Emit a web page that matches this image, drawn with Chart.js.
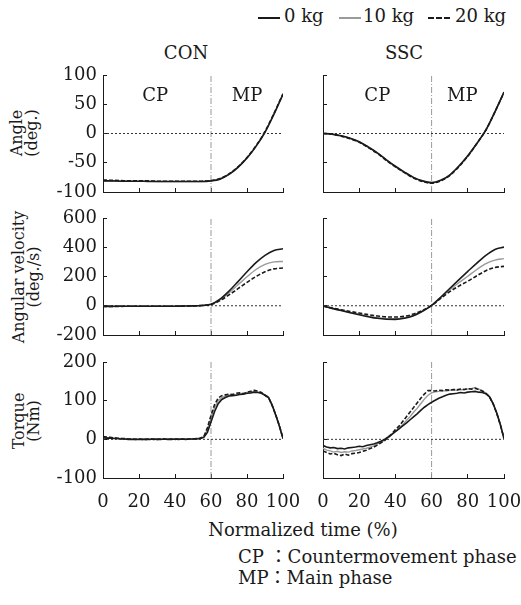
<!DOCTYPE html>
<html><head><meta charset="utf-8">
<script src="https://cdn.jsdelivr.net/npm/chart.js@4"></script>
<style>
body{margin:0;background:#fff;width:521px;height:605px;position:relative;overflow:hidden;font-family:"DejaVu Serif","Noto Sans CJK JP",serif;color:#1a1a1a}
canvas{position:absolute}
.t{position:absolute;white-space:nowrap;font-size:18px;line-height:20px}
.c{transform:translate(-50%,-50%)}
.yt{position:absolute;white-space:nowrap;font-size:16px;line-height:15px;text-align:center;transform:translate(-50%,-50%) rotate(-90deg)}
.lg{position:absolute;width:22px;height:0}
</style></head><body>

<div class="lg" style="left:258px;top:17px;border-top:2px solid #1a1a1a"></div>
<div class="t" style="left:284px;top:6px">0 kg</div>
<div class="lg" style="left:339px;top:17px;border-top:2px solid #9a9a9a"></div>
<div class="t" style="left:363px;top:6px">10 kg</div>
<div class="lg" style="left:428px;top:17px;border-top:2px dashed #1a1a1a"></div>
<div class="t" style="left:455px;top:6px">20 kg</div>

<div class="t c" style="left:186px;top:53px">CON</div>
<div class="t c" style="left:404px;top:53px">SSC</div>

<div class="yt" style="left:24px;top:133px">Angle<br>(deg.)</div>
<div class="yt" style="left:26px;top:277px">Angular velocity<br>(deg./s)</div>
<div class="yt" style="left:26px;top:421px">Torque<br>(Nm)</div>

<div class="t c" style="left:303px;top:530px">Normalized time (%)</div>
<div class="t" style="left:238px;top:547px">CP ：Countermovement phase</div>
<div class="t" style="left:238px;top:568px">MP：Main phase</div>

<canvas id="c1"></canvas><canvas id="c2"></canvas>
<canvas id="c3"></canvas><canvas id="c4"></canvas>
<canvas id="c5"></canvas><canvas id="c6"></canvas>

<script>
// ---------- data ----------
const loads = ['0 kg', '10 kg', '20 kg'];
const xTicks = [0, 20, 40, 60, 80, 100];
const angleTicks = [-100, -50, 0, 50, 100];
const velocityTicks = [-200, 0, 200, 400, 600];
const torqueTicks = [-100, 0, 100, 200];
const phaseBoundary = 60;

const timeCoarse = [0,5,10,15,20,25,30,35,40,45,50,55,60,65,70,75,80,85,90,95,100];
const timeFine = [0,2,4,6,8,10,12,14,16,18,20,22,24,26,28,30,32,34,36,38,40,42,44,46,48,50,
                  52,54,56,58,60,62,64,66,68,70,72,74,76,78,80,82,84,86,88,90,92,94,96,98,100];

const conAngle0  = [-81,-81,-81.5,-81.5,-81.5,-82,-82,-82,-82,-82,-82,-82,-81,-78,-70,-58,-42,-22,2,33,67];
const conAngle10 = [-80.5,-81,-81,-81.5,-81.5,-81.5,-82,-82,-82,-82,-82,-82,-81,-77.5,-69.5,-57.5,-41.5,-21.5,3,34,68];
const conAngle20 = [-79.5,-80,-80.5,-81,-81,-81,-81.5,-81.5,-81.5,-81.5,-81.5,-81.5,-80.5,-77,-69,-57,-41,-21,3.5,34.5,68];

const sscAngle0  = [0,-1,-4,-8,-14,-23,-33,-45,-56,-66,-75,-81,-84,-80,-71,-56,-38,-17,6,37,71];
const sscAngle10 = [0,-1,-4,-8.5,-14.5,-23.5,-33.5,-45,-56.5,-66.5,-75.5,-81.5,-84.5,-80.5,-71,-56,-38,-17,6,37,70];
const sscAngle20 = [0,-1,-4.5,-9,-15,-24,-34,-46,-57,-67,-76,-82,-85,-81,-72,-57,-39,-17,6,37,70];

const conVel0  = [-4,-4,-3,-3,-3,-3,-3,-3,-3,-2,-1,2,10,45,100,165,232,295,345,378,390];
const conVel10 = [-4,-4,-3,-3,-3,-3,-3,-3,-3,-2,-1,2,9,40,88,143,198,248,283,300,303];
const conVel20 = [-5,-4,-4,-3,-3,-3,-3,-3,-3,-2,-1,2,8,35,74,117,160,200,232,252,258];

const sscVel0  = [-2,-18,-33,-48,-62,-75,-86,-92,-93,-86,-68,-38,2,58,118,177,235,292,345,385,401];
const sscVel10 = [-2,-17,-31,-45,-58,-71,-82,-88,-89,-82,-64,-35,2,55,108,157,202,248,288,312,322];
const sscVel20 = [-2,-15,-27,-39,-50,-61,-70,-76,-77,-72,-57,-31,2,50,96,134,168,205,240,262,269];

const conTorque0  = [4,3,3,2,2,1,1,0,0,0, 0,0,0,0,1,0,0,1,0,0, 1,0,1,0,1,1,1,2,5,18,
                     45,72,92,103,108,112,113,114,116,117, 119,120,122,121,119,114,108,88,62,34, 2];
const conTorque10 = [5,4,4,3,2,2,1,1,0,0, 0,0,1,0,0,1,0,0,1,0, 0,1,0,1,0,1,2,3,6,25,
                     55,82,100,108,112,114,116,115,118,119, 121,122,124,122,120,115,109,89,63,35, 2];
const conTorque20 = [7,6,5,4,3,2,2,1,1,0, 1,0,0,1,0,0,1,1,0,1, 0,1,1,0,1,1,2,3,7,30,
                     62,90,107,113,115,117,116,119,120,118, 122,124,127,125,121,114,108,87,63,35, 2];

const sscTorque0  = [-16,-20,-22,-21,-24,-23,-25,-22,-21,-20, -18,-19,-16,-14,-12,-9,-5,0,6,13,
                     20,27,35,42,50,58,66,75,83,90, 96,101,106,110,114,117,118,119,121,120,
                     122,123,124,122,121,118,110,92,68,38, 2];
const sscTorque10 = [-23,-28,-30,-33,-31,-34,-32,-33,-30,-29, -27,-25,-23,-20,-17,-12,-8,-2,4,12,
                     21,29,38,48,58,70,80,92,104,114, 120,123,124,126,125,127,128,127,129,128,
                     130,131,134,130,126,119,110,93,68,38, 2];
const sscTorque20 = [-30,-34,-38,-36,-40,-42,-38,-41,-37,-36, -34,-31,-28,-24,-20,-15,-9,-3,5,14,
                     25,34,46,58,70,82,94,106,117,126, 126,125,127,126,128,127,129,128,130,129,
                     131,130,132,129,125,119,110,92,67,37, 2];

// ---------- rendering ----------
const FONT = '"DejaVu Serif", serif';
const INK = '#1a1a1a';

const phaseLabels = {
  id: 'phaseLabels',
  afterDatasetsDraw(chart, args, opts) {
    if (!opts.items) return;
    const {ctx, scales: {x, y}} = chart;
    ctx.save();
    ctx.font = '18px ' + FONT;
    ctx.fillStyle = INK;
    ctx.textAlign = 'center';
    ctx.textBaseline = 'middle';
    opts.items.forEach(it => ctx.fillText(it.text, x.getPixelForValue(it.x), y.getPixelForValue(it.y)));
    ctx.restore();
  }
};

const styles = [
  {borderColor: INK, borderWidth: 1.6, borderDash: []},
  {borderColor: '#9a9a9a', borderWidth: 1.4, borderDash: []},
  {borderColor: INK, borderWidth: 1.6, borderDash: [4, 2]}
];

function pts(xs, ys) { return xs.map((x, i) => ({x: x, y: ys[i]})); }

function panel(id, geom, time, series, yTicks, showX, showY, smooth, labels) {
  const cv = document.getElementById(id);
  cv.width = geom.w; cv.height = geom.h;
  cv.style.left = geom.l + 'px'; cv.style.top = geom.t + 'px';
  cv.style.width = geom.w + 'px'; cv.style.height = geom.h + 'px';
  const yMin = yTicks[0], yMax = yTicks[yTicks.length - 1];
  const ds = [];
  [0, 2, 1].forEach(k => {
    ds.push(Object.assign({
      label: loads[k], data: pts(time, series[k]), pointRadius: 0, fill: false,
      tension: smooth ? 0.4 : 0, cubicInterpolationMode: smooth ? 'monotone' : 'default'
    }, styles[k]));
  });
  ds.push({label: 'zero', data: [{x: xTicks[0], y: 0}, {x: xTicks[xTicks.length - 1], y: 0}],
           borderColor: '#333', borderWidth: 1, borderDash: [2, 2], pointRadius: 0});
  ds.push({label: 'phase', data: [{x: phaseBoundary, y: yMin}, {x: phaseBoundary, y: yMax}],
           borderColor: '#9a9a9a', borderWidth: 1, borderDash: [6, 2, 1, 2], pointRadius: 0});
  new Chart(cv, {
    type: 'line',
    data: {datasets: ds},
    plugins: [phaseLabels],
    options: {
      responsive: false, animation: false, devicePixelRatio: 1,
      layout: {padding: {top: 22, right: geom.pr, bottom: 0, left: 0}},
      plugins: {legend: {display: false}, tooltip: {enabled: false}, phaseLabels: {items: labels}},
      scales: {
        x: {
          type: 'linear', min: xTicks[0], max: xTicks[xTicks.length - 1],
          afterBuildTicks: s => { s.ticks = xTicks.map(v => ({value: v})); },
          ticks: {display: showX, autoSkip: false, padding: 18, color: INK, font: {family: FONT, size: 18}, maxRotation: 0},
          grid: {drawOnChartArea: false, tickLength: -4, color: INK, lineWidth: 1},
          border: {color: INK, width: 1},
          afterFit: s => { s.height = geom.xh; s.paddingLeft = 0; s.paddingRight = 0; }
        },
        y: {
          type: 'linear', min: yMin, max: yMax,
          afterBuildTicks: s => { s.ticks = yTicks.map(v => ({value: v})); },
          ticks: {display: showY, autoSkip: false, padding: 10, color: INK, font: {family: FONT, size: 18}},
          grid: {drawOnChartArea: false, tickLength: -4, color: INK, lineWidth: 1},
          border: {color: INK, width: 1},
          afterFit: s => { s.width = geom.yw; s.paddingTop = 0; s.paddingBottom = 0; }
        }
      }
    }
  });
}

const L = {l: 40, w: 261, yw: 63, pr: 18};
const R = {l: 300, w: 221, yw: 23, pr: 17};
const rows = [{t: 53, h: 161, xh: 22}, {t: 196, h: 161, xh: 22}, {t: 340, h: 178, xh: 40}];
const g = (c, r) => Object.assign({}, c, r);

panel('c1', g(L, rows[0]), timeCoarse, [conAngle0, conAngle10, conAngle20], angleTicks, false, true, true,
      [{text: 'CP', x: 29, y: 64}, {text: 'MP', x: 80, y: 64}]);
panel('c2', g(R, rows[0]), timeCoarse, [sscAngle0, sscAngle10, sscAngle20], angleTicks, false, false, true,
      [{text: 'CP', x: 30, y: 64}, {text: 'MP', x: 77, y: 64}]);
panel('c3', g(L, rows[1]), timeCoarse, [conVel0, conVel10, conVel20], velocityTicks, false, true, true, null);
panel('c4', g(R, rows[1]), timeCoarse, [sscVel0, sscVel10, sscVel20], velocityTicks, false, false, true, null);
panel('c5', g(L, rows[2]), timeFine, [conTorque0, conTorque10, conTorque20], torqueTicks, true, true, false, null);
panel('c6', g(R, rows[2]), timeFine, [sscTorque0, sscTorque10, sscTorque20], torqueTicks, true, false, false, null);
</script>
</body></html>
